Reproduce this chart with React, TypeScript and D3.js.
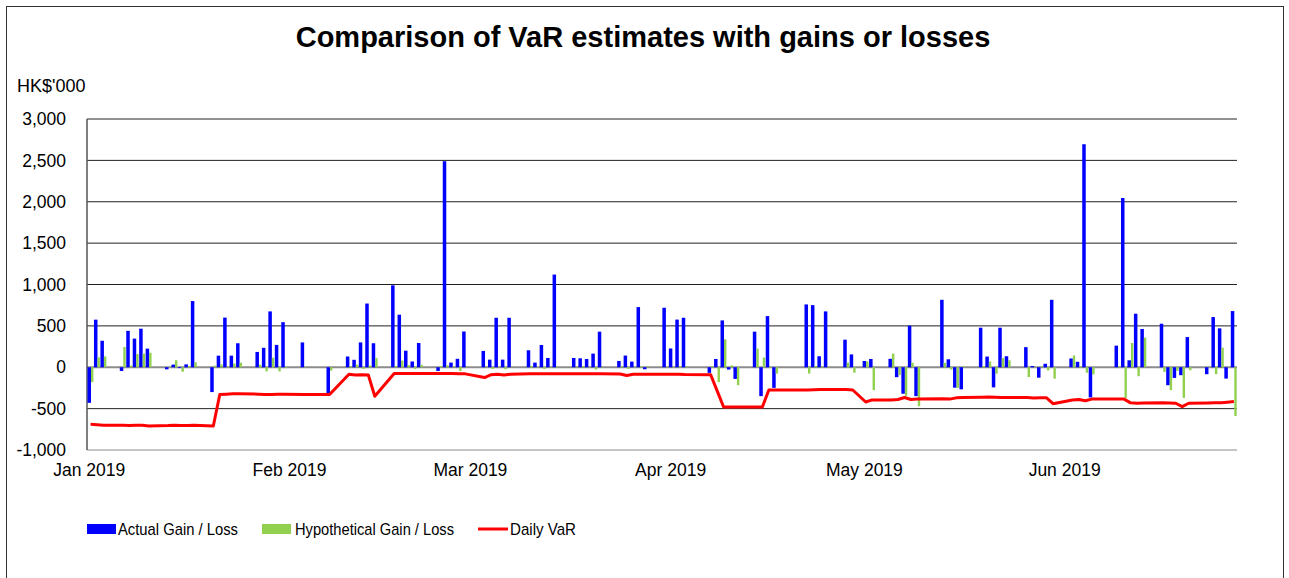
import * as d3 from "d3";

// trading days shown on the chart
const dates = [
  "2019-01-02", "2019-01-03", "2019-01-04", "2019-01-07", "2019-01-08", "2019-01-09", "2019-01-10", "2019-01-11",
  "2019-01-14", "2019-01-15", "2019-01-16", "2019-01-17", "2019-01-18", "2019-01-21", "2019-01-22", "2019-01-23",
  "2019-01-24", "2019-01-25", "2019-01-28", "2019-01-29", "2019-01-30", "2019-01-31", "2019-02-01", "2019-02-04",
  "2019-02-08", "2019-02-11", "2019-02-12", "2019-02-13", "2019-02-14", "2019-02-15", "2019-02-18", "2019-02-19",
  "2019-02-20", "2019-02-21", "2019-02-22", "2019-02-25", "2019-02-26", "2019-02-27", "2019-02-28", "2019-03-01",
  "2019-03-04", "2019-03-05", "2019-03-06", "2019-03-07", "2019-03-08", "2019-03-11", "2019-03-12", "2019-03-13",
  "2019-03-14", "2019-03-15", "2019-03-18", "2019-03-19", "2019-03-20", "2019-03-21", "2019-03-22", "2019-03-25",
  "2019-03-26", "2019-03-27", "2019-03-28", "2019-03-29", "2019-04-01", "2019-04-02", "2019-04-03", "2019-04-04",
  "2019-04-08", "2019-04-09", "2019-04-10", "2019-04-11", "2019-04-12", "2019-04-15", "2019-04-16", "2019-04-17",
  "2019-04-18", "2019-04-23", "2019-04-24", "2019-04-25", "2019-04-26", "2019-04-29", "2019-04-30", "2019-05-02",
  "2019-05-03", "2019-05-06", "2019-05-07", "2019-05-08", "2019-05-09", "2019-05-10", "2019-05-14", "2019-05-15",
  "2019-05-16", "2019-05-17", "2019-05-20", "2019-05-21", "2019-05-22", "2019-05-23", "2019-05-24", "2019-05-27",
  "2019-05-28", "2019-05-29", "2019-05-30", "2019-05-31", "2019-06-03", "2019-06-04", "2019-06-05", "2019-06-06",
  "2019-06-10", "2019-06-11", "2019-06-12", "2019-06-13", "2019-06-14", "2019-06-17", "2019-06-18", "2019-06-19",
  "2019-06-20", "2019-06-21", "2019-06-24", "2019-06-25", "2019-06-26", "2019-06-27", "2019-06-28",
];

const actual = [
  -430, 575, 320, -45, 440, 346, 466, 225,
  -25, 32, -10, 35, 800, -300, 140, 600,
  140, 290, 185, 235, 675, 270, 545, 300,
  -320, 130, 90, 300, 770, 290, 990, 635,
  200, 70, 293, -45, 2490, 56, 102, 432,
  197, 92, 598, 92, 598, 205, 56, 269,
  112, 1120, 112, 108, 100, 165, 430, 76,
  141, 68, 727, -24, 719, 227, 576, 598,
  -68, 100, 566, -28, -141, 430, -349, 618,
  -249, 759, 751, 133, 675, 333, 155, 76,
  100, 102, -120, -320, 502, -349, 815, 96,
  -247, -267, 478, 129, -243, 478, 133, 243,
  15, -126, 42, 815, 106, 66, 2695, -365,
  261, 2045, 84, 647, 462, 526, -217, -129,
  -96, 365, -84, 606, 470, -137, 679,
];

const hypothetical = [
  -180, 120, 130, 245, 20, 160, 165, 175,
  5, 85, -55, 15, 60, 20, 35, 10,
  45, 55, 30, -50, 115, -50, -10, 5,
  -40, 10, 30, -20, 20, 110, 15, 80,
  25, -20, 30, 16, 25, 10, -45, 5,
  5, -20, 5, -25, 5, 16, 5, -20,
  5, 8, 5, 16, 5, -28, 5, 16,
  -20, 5, 10, 8, 5, 5, 10, 10,
  10, -180, 337, 24, -217, 225, 117, -10,
  -76, -76, 16, 10, 5, 56, -66, 70,
  -277, 165, -95, -345, 54, -470, 54, -28,
  -249, 10, 15, 70, -78, 111, 84, -118,
  5, 10, -38, -138, 143, 10, -66, -86,
  10, -370, 293, -108, 358, -56, -277, -44,
  -370, -36, 5, -84, 237, 5, -590,
];

const dailyVaR = [
  -690, -695, -700, -700, -705, -700, -700, -710,
  -705, -700, -705, -705, -700, -710, -330, -325,
  -320, -320, -325, -330, -330, -325, -325, -330,
  -330, -85, -95, -90, -95, -350, -75, -75,
  -75, -75, -75, -75, -75, -75, -78, -80,
  -125, -90, -85, -95, -85, -80, -80, -80,
  -80, -80, -80, -80, -80, -80, -80, -82,
  -100, -85, -85, -85, -85, -85, -85, -88,
  -90, -285, -480, -480, -480, -480, -480, -275,
  -275, -275, -272, -270, -270, -270, -275, -420,
  -395, -395, -390, -365, -390, -385, -380, -385,
  -370, -365, -362, -360, -362, -365, -365, -365,
  -372, -368, -370, -440, -395, -390, -405, -385,
  -385, -385, -430, -435, -432, -430, -432, -435,
  -475, -435, -432, -430, -428, -422, -415,
];

const yTicks = [-1000, -500, 0, 500, 1000, 1500, 2000, 2500, 3000];
const monthTicks = ["2019-01-02", "2019-02-02", "2019-03-02", "2019-04-02", "2019-05-02", "2019-06-02"];
const monthLabels = ["Jan 2019", "Feb 2019", "Mar 2019", "Apr 2019", "May 2019", "Jun 2019"];

const W = 1289;
const H = 578;
const plot = { left: 87, right: 1237, top: 119, bottom: 450 };
const FONT = "'Liberation Sans', Arial, sans-serif";

export default function App() {
  const parse = d3.timeParse("%Y-%m-%d");
  const days = dates.map((d) => parse(d) as Date);

  const x = d3
    .scaleTime()
    .domain(d3.extent(days) as [Date, Date])
    .range([89.3, 1232.6]);
  const y = d3.scaleLinear().domain([-1000, 3000]).range([plot.bottom, plot.top]);
  const fmt = (v: number) => d3.format(",")(v).replace("\u2212", "-");

  const varLine = d3
    .line<number>()
    .x((_, i) => x(days[i]) + 1.3)
    .y((v) => y(v));

  return (
    <svg
      width={W}
      height={H}
      style={{ position: "absolute", left: 0, top: 0, background: "#fff" }}
      fontFamily={FONT}
    >
      <rect x={6.5} y={6.5} width={1277} height={600} fill="#fff" stroke="#333" strokeWidth={1} />

      <text x={643} y={47} textAnchor="middle" fontSize={29} fontWeight="bold">
        Comparison of VaR estimates with gains or losses
      </text>
      <text x={17} y={92} fontSize={18}>HK$'000</text>

      {/* grid and y labels */}
      {yTicks.map((t) => (
        <g key={t}>
          <line
            x1={plot.left}
            x2={plot.right}
            y1={y(t)}
            y2={y(t)}
            stroke={t === 0 || t === -1000 ? "#8c8c8c" : "#222"}
            strokeWidth={t === 0 ? 2 : 1}
          />
          <text x={66} y={y(t)} dy="0.35em" textAnchor="end" fontSize={17.5}>
            {fmt(t)}
          </text>
        </g>
      ))}
      <line x1={plot.left} x2={plot.left} y1={plot.top} y2={plot.bottom} stroke="#555" strokeWidth={1.5} />

      {/* month labels */}
      {monthTicks.map((m, i) => (
        <text key={m} x={x(parse(m) as Date)} y={476} textAnchor="middle" fontSize={17.5}>
          {monthLabels[i]}
        </text>
      ))}

      {/* actual gain / loss */}
      {actual.map((v, i) => (
        <rect
          key={"a" + i}
          x={x(days[i]) - 1.8}
          y={Math.min(y(v), y(0))}
          width={3.5}
          height={Math.abs(y(v) - y(0))}
          fill="#0000ff"
        />
      ))}
      {/* hypothetical gain / loss */}
      {hypothetical.map((v, i) => (
        <rect
          key={"h" + i}
          x={x(days[i]) + 1.7}
          y={Math.min(y(v), y(0))}
          width={2.4}
          height={Math.abs(y(v) - y(0))}
          fill="#92d050"
        />
      ))}

      <path d={varLine(dailyVaR) ?? ""} fill="none" stroke="#ff0000" strokeWidth={3} strokeLinejoin="round" />

      {/* legend */}
      <rect x={87} y={524} width={29} height={10} fill="#0000ff" />
      <text x={118} y={535} fontSize={17} textLength={120} lengthAdjust="spacingAndGlyphs">Actual Gain / Loss</text>
      <rect x={262} y={524} width={29} height={10} fill="#92d050" />
      <text x={295} y={535} fontSize={17} textLength={159} lengthAdjust="spacingAndGlyphs">Hypothetical Gain / Loss</text>
      <line x1={478} x2={508} y1={529} y2={529} stroke="#ff0000" strokeWidth={3} />
      <text x={510} y={535} fontSize={17} textLength={66} lengthAdjust="spacingAndGlyphs">Daily VaR</text>
    </svg>
  );
}
